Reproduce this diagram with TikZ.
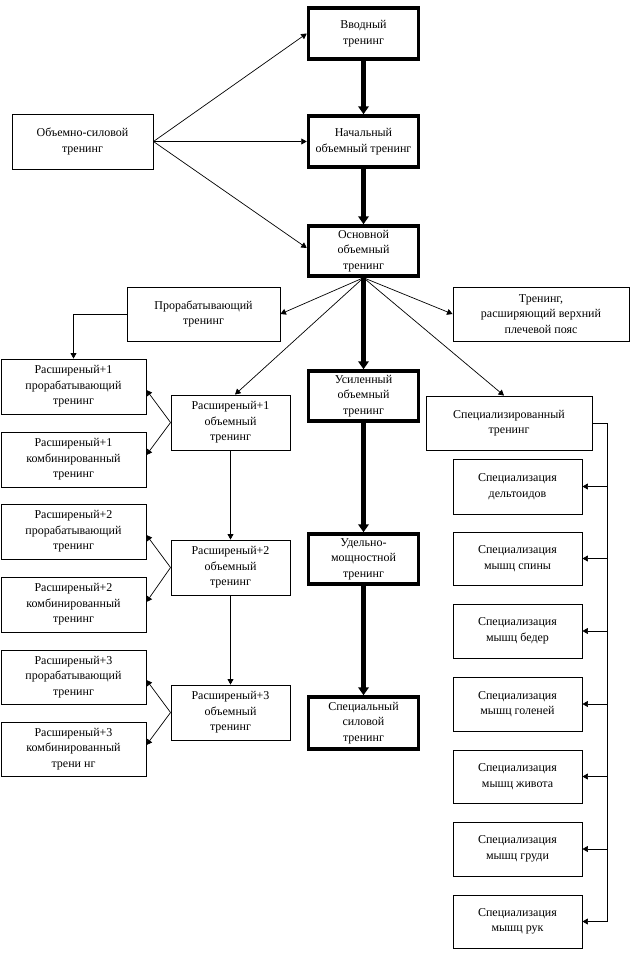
\documentclass[tikz,border=0pt]{standalone}
\usepackage{fontspec}
\setmainfont{Liberation Serif}
\usetikzlibrary{arrows.meta,calc}
\begin{document}
\begin{tikzpicture}[x=1pt,y=-1pt,
  sz/.style 2 args={minimum width=#1pt, minimum height=#2pt},
  box/.style={draw, line width=0.9pt, align=center, inner sep=0pt, font=\fontsize{12}{15.5}\selectfont},
  tbox/.style={box, line width=3.5pt},
  ln/.style={line width=0.8pt},
  arr/.style={line width=0.7pt, -{Triangle[length=5.5pt,width=6pt]}},
  tarr/.style={line width=4.3pt, -{Triangle[length=8pt,width=10.5pt]}}]
\useasboundingbox (0,0) rectangle (632,954);
% main column
\node[tbox, sz={110}{51}] (vvod) at (363.5,33.5) {Вводный\\тренинг};
\node[tbox, sz={110}{51}] (nach) at (363.5,141.5) {Начальный\\объемный тренинг};
\node[tbox, sz={110}{50}] (osn) at (363.5,251) {Основной\\объемный\\тренинг};
\node[tbox, sz={110}{50}] (usil) at (363.5,396) {Усиленный\\объемный\\тренинг};
\node[tbox, sz={110}{50}] (udel) at (363.5,559) {Удельно-\\мощностной\\тренинг};
\node[tbox, sz={110}{52}] (spsil) at (363.5,723) {Специальный\\силовой\\тренинг};
% left
\node[box, sz={141}{55}] (obsil) at (82.5,141.5) {Объемно-силовой\\тренинг};
\node[box, sz={153}{54}] (prorab) at (203.5,314) {Прорабатывающий\\тренинг};
\node[box, sz={145}{55}] (r1p) at (73.5,386.5) {Расширеный+1\\прорабатывающий\\тренинг};
\node[box, sz={145}{55}] (r1k) at (73.5,459.5) {Расширеный+1\\комбинированный\\тренинг};
\node[box, sz={145}{55}] (r2p) at (73.5,531.5) {Расширеный+2\\прорабатывающий\\тренинг};
\node[box, sz={145}{55}] (r2k) at (73.5,604.5) {Расширеный+2\\комбинированный\\тренинг};
\node[box, sz={145}{54}] (r3p) at (73.5,677) {Расширеный+3\\прорабатывающий\\тренинг};
\node[box, sz={145}{54}] (r3k) at (73.5,749) {Расширеный+3\\комбинированный\\трени нг};
\node[box, sz={119}{55}] (r1o) at (230.5,422.5) {Расширеный+1\\объемный\\тренинг};
\node[box, sz={119}{55}] (r2o) at (230.5,567.5) {Расширеный+2\\объемный\\тренинг};
\node[box, sz={119}{55}] (r3o) at (230.5,712.5) {Расширеный+3\\объемный\\тренинг};
% right
\node[box, sz={176}{54}] (rassh) at (541,314) {Тренинг,\\расширяющий верхний\\плечевой пояс};
\node[box, sz={166}{54}] (spezd) at (509,423) {Специализированный\\тренинг};
\node[box, sz={129}{55}] (sp1) at (517.5,486.5) {Специализация\\дельтоидов};
\node[box, sz={129}{53}] (sp2) at (517.5,558.5) {Специализация\\мышц спины};
\node[box, sz={129}{54}] (sp3) at (517.5,631) {Специализация\\мышц бедер};
\node[box, sz={129}{54}] (sp4) at (517.5,704) {Специализация\\мышц голеней};
\node[box, sz={129}{53}] (sp5) at (517.5,776.5) {Специализация\\мышц живота};
\node[box, sz={129}{54}] (sp6) at (517.5,849) {Специализация\\мышц груди};
\node[box, sz={129}{53}] (sp7) at (517.5,921.5) {Специализация\\мышц рук};
% thick arrows
\draw[tarr] (vvod.south) -- (nach.north);
\draw[tarr] (nach.south) -- (osn.north);
\draw[tarr] (osn.south) -- (usil.north);
\draw[tarr] (usil.south) -- (udel.north);
\draw[tarr] (udel.south) -- (spsil.north);
% from obsil
\draw[arr] (obsil.east) -- (vvod.west);
\draw[arr] (obsil.east) -- (nach.west);
\draw[arr] (obsil.east) -- ([yshift=3pt]osn.west);
% fan from osn
\draw[arr] (osn.south) -- (prorab.east);
\draw[arr] (osn.south) -- ([xshift=4.5pt]r1o.north);
\draw[arr] (osn.south) -- (rassh.west);
\draw[arr] (osn.south) -- ([xshift=-5pt]spezd.north);
% left chain
\draw[arr] (prorab.west) -| (r1p.north);
\draw[arr] (r1o.west) -- ([yshift=-3.5pt]r1p.east);
\draw[arr] (r1o.west) -- ([yshift=4.5pt]r1k.east);
\draw[arr] (r2o.west) -- ([yshift=-3.5pt]r2p.east);
\draw[arr] (r2o.west) -- ([yshift=2.5pt]r2k.east);
\draw[arr] (r3o.west) -- ([yshift=-3pt]r3p.east);
\draw[arr] (r3o.west) -- ([yshift=4pt]r3k.east);
\draw[arr] (r1o.south) -- (r2o.north);
\draw[arr] (r2o.south) -- (r3o.north);
% bus
\path (spezd.east) ++(14.5,0) coordinate (bus);
\draw[ln] (spezd.east) -- (bus) -- (bus |- sp7.east);
\foreach \s in {sp1,sp2,sp3,sp4,sp5,sp6,sp7}
  \draw[arr] (bus |- \s.east) -- (\s.east);
\end{tikzpicture}
\end{document}
